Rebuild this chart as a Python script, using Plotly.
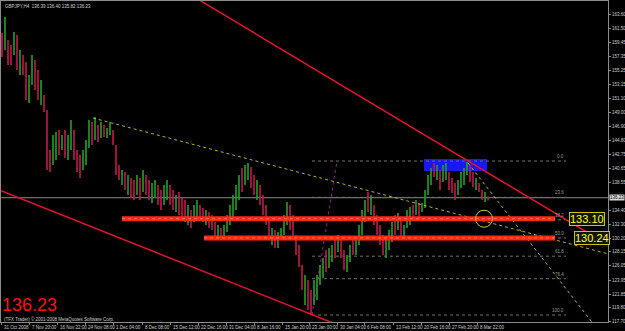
import plotly.graph_objects as go

# ---------------- data (GBPJPY H4) ----------------
bar_high = [
    160.81, 163.19, 159.76, 159.02, 160.96, 160.51, 158.27, 157.52, 156.48, 154.54,
    157.52, 156.78, 155.29, 153.80, 151.56, 149.32, 143.36, 145.59, 146.04, 146.34,
    145.59, 146.34, 145.59, 147.83, 146.34, 143.36, 142.60, 143.36, 144.85, 147.83,
    147.53, 148.27, 147.08, 147.53, 147.08, 146.63, 147.53, 146.34, 144.10, 141.11,
    140.37, 140.07, 139.62, 139.17, 138.88, 139.62, 139.17, 140.37, 139.62, 138.88,
    138.43, 138.88, 138.13, 137.39, 138.13, 138.88, 138.13, 137.39, 136.64, 137.09,
    136.19, 135.90, 135.14, 134.41, 135.14, 135.90, 135.14, 134.70, 134.41, 134.10,
    133.65, 132.61, 132.16, 131.71, 132.16, 133.65, 135.14, 136.64, 138.13, 139.62,
    140.66, 141.11, 141.41, 140.81, 139.62, 138.88, 138.13, 136.64, 135.14, 132.92,
    131.71, 131.42, 131.12, 131.71, 133.65, 135.59, 135.14, 133.65, 130.67, 129.18,
    126.19, 124.70, 123.97, 122.47, 123.97, 124.70, 126.19, 127.24, 128.43, 128.73,
    129.18, 129.93, 130.67, 129.93, 128.43, 127.68, 129.18, 129.93, 130.37, 132.16,
    134.41, 135.90, 137.09, 136.64, 135.14, 133.65, 132.16, 130.67, 129.93, 131.42,
    132.61, 133.65, 133.95, 132.92, 132.16, 134.41, 134.85, 135.14, 135.90, 135.44,
    135.44, 137.39, 139.62, 140.66, 141.41, 141.11, 140.37, 141.11, 141.41, 140.07,
    139.17, 138.43, 138.88, 140.07, 140.66, 141.56, 141.11, 140.07, 139.17, 138.43,
    137.39, 137.09, 136.40,
]
bar_low = [
    157.23, 158.27, 156.03, 156.03, 157.52, 155.29, 154.54, 154.54, 150.81, 150.36,
    153.05, 152.31, 150.81, 150.07, 149.02, 140.37, 140.07, 141.11, 141.86, 142.60,
    143.36, 142.16, 141.86, 143.36, 141.86, 140.07, 139.17, 140.37, 141.11, 143.65,
    144.10, 144.85, 144.54, 145.14, 145.29, 145.14, 145.59, 144.10, 139.62, 138.88,
    138.13, 137.39, 136.64, 136.19, 135.90, 136.64, 135.90, 137.09, 136.64, 135.90,
    135.44, 136.19, 135.14, 134.41, 135.14, 135.90, 135.14, 134.41, 134.10, 133.65,
    133.20, 132.61, 132.16, 131.71, 132.61, 133.20, 132.92, 132.61, 132.16, 131.71,
    131.42, 130.22, 129.93, 129.93, 130.22, 131.12, 132.16, 133.20, 134.41, 135.90,
    137.09, 138.13, 138.88, 137.68, 136.64, 135.90, 135.14, 133.65, 132.16, 129.93,
    129.18, 128.73, 128.73, 129.93, 130.67, 132.16, 131.42, 129.93, 127.68, 125.89,
    122.47, 120.23, 119.48, 118.73, 120.23, 120.97, 123.21, 124.26, 125.15, 125.74,
    126.64, 127.24, 128.13, 127.24, 125.45, 125.15, 126.64, 127.68, 127.68, 129.18,
    130.67, 132.61, 134.10, 133.65, 132.16, 130.67, 129.18, 127.68, 127.24, 128.43,
    129.63, 130.67, 131.42, 130.22, 129.93, 131.71, 132.16, 132.92, 133.65, 133.35,
    134.10, 134.70, 136.64, 138.13, 139.32, 138.88, 137.39, 138.58, 138.88, 137.39,
    136.93, 135.90, 136.64, 137.68, 138.13, 139.62, 138.58, 137.83, 137.39, 137.09,
    135.90, 135.59, 135.82,
]
bar_up = [
    0, 1, 0, 0, 1, 0, 1, 0, 0, 1,
    1, 0, 0, 1, 0, 0, 0, 1, 1, 0,
    1, 0, 1, 1, 0, 0, 0, 1, 1, 1,
    0, 1, 0, 1, 0, 1, 1, 0, 0, 0,
    1, 0, 1, 0, 0, 1, 0, 1, 0, 0,
    1, 1, 0, 0, 1, 1, 0, 0, 1, 0,
    0, 0, 1, 0, 1, 1, 0, 0, 1, 0,
    0, 0, 1, 0, 1, 1, 1, 1, 1, 1,
    0, 1, 1, 0, 0, 1, 0, 0, 0, 0,
    1, 0, 1, 1, 1, 1, 0, 0, 0, 0,
    0, 1, 0, 0, 1, 1, 1, 1, 0, 1,
    1, 0, 1, 0, 0, 1, 1, 0, 1, 1,
    1, 1, 0, 1, 0, 0, 0, 0, 1, 1,
    1, 0, 1, 0, 1, 1, 1, 0, 1, 0,
    1, 1, 1, 1, 0, 1, 0, 1, 1, 0,
    0, 0, 1, 1, 1, 1, 0, 0, 1, 0,
    0, 1, 0,
]
bar_step = 3  # each drawn bar stands for 3 H4 bars

x_tick_labels = ["31 Oct 2008", "7 Nov 20:00", "16 Nov 22:00", "24 Nov 08:00", "1 Dec 04:00",
                 "8 Dec 08:00", "15 Dec 12:00", "22 Dec 16:00", "31 Dec 04:00", "8 Jan 16:00",
                 "15 Jan 20:00", "23 Jan 00:00", "30 Jan 04:00", "6 Feb 08:00", "13 Feb 12:00",
                 "20 Feb 16:00", "27 Feb 20:00", "8 Mar 22:00"]
x_tick_pos = [-1, 27, 55, 83, 111, 140, 168, 196, 224, 252, 280, 307, 335, 362, 391, 419, 447, 475]

y_tick_labels = ["117.70", "119.80", "121.85", "123.95", "126.05", "128.15", "130.20", "132.30",
                 "134.40", "138.55", "140.65", "142.75", "144.80", "146.90", "149.00", "151.10",
                 "153.15", "155.25", "157.35", "159.45", "161.50", "163.60"]

symbol_title = "GBPJPY,H4  136.39 136.40 135.82 136.23"
copyright_text = "(TFX Trader) © 2001-2008 MetaQuotes Software Corp."
bid_price = 136.23
levels_hline = [133.10, 130.24]          # red support lines
levels_hline_start = [120, 202]          # bar position where each line starts
levels_hline_end = 553

fib_high, fib_low = 141.71, 118.73
fib_ratios = [0.0, 23.6, 38.2, 50.0, 61.8, 76.4, 100.0]
fib_x = [310, 335, 564]                  # low anchor, high anchor, right end

# trendline anchors: (x0, p0, x1, p1)
red_upper = (431, 144.85, 568, 132.61)
red_lower = (198, 125.45, 311, 118.73)
olive_a = (91, 148.12, 398, 136.04)
olive_b = (466, 141.41, 540, 127.24)

box_zone = (422, 485, 140.22, 142.01)    # blue rectangle
circle_mark = (482, 133.10)

X_RANGE = [-1, 606]
Y_RANGE = [117.69, 165.58]

SMALL = dict(size=4.5, color="#d0d0d0", family="Liberation Sans")

# ---------------- figure ----------------
fig = go.Figure()


def bar_segments(flag):
    xs, ys = [], []
    for k, (h, l, u) in enumerate(zip(bar_high, bar_low, bar_up)):
        if u == flag:
            xs += [k * bar_step, k * bar_step, None]
            ys += [l, h, None]
    return xs, ys


def extended(line, x_from, x_to):
    x0, p0, x1, p1 = line
    s = (p1 - p0) / (x1 - x0)
    return [x_from, x_to], [p0 + s * (x_from - x0), p0 + s * (x_to - x0)]


# bid line (gray, full width)
fig.add_trace(go.Scatter(x=X_RANGE, y=[bid_price, bid_price], mode="lines",
                         line=dict(color="#8a8a8a", width=1), hoverinfo="skip"))

# fibonacci levels
for r in fib_ratios:
    lv = fib_high - (fib_high - fib_low) * r / 100
    fig.add_trace(go.Scatter(x=[fib_x[0], fib_x[2]], y=[lv, lv], mode="lines",
                             line=dict(color="#6e6e6e", width=1, dash="dot"), hoverinfo="skip"))
    fig.add_annotation(x=fib_x[2], y=lv, xref="x", yref="y", text=f"{r:.1f}", showarrow=False,
                       xanchor="right", yanchor="bottom",
                       font=dict(size=4.5, color="#9a9a9a", family="Liberation Sans"))
fig.add_trace(go.Scatter(x=[fib_x[0], fib_x[1]], y=[fib_low, fib_high], mode="lines",
                         line=dict(color="#9a1aa0", width=1, dash="dot"), hoverinfo="skip"))

# bars
for flag, col in [(1, "#22a322"), (0, "#c4184c")]:
    xs, ys = bar_segments(flag)
    fig.add_trace(go.Scatter(x=xs, y=ys, mode="lines", line=dict(color=col, width=1.6),
                             hoverinfo="skip"))

# olive dotted trendlines
xa, ya = extended(olive_a, olive_a[0], X_RANGE[1])
fig.add_trace(go.Scatter(x=xa, y=ya, mode="lines", line=dict(color="#b4b428", width=1, dash="dot"),
                         hoverinfo="skip"))
xb, yb = extended(olive_b, olive_b[0], X_RANGE[1])
fig.add_trace(go.Scatter(x=xb, y=yb, mode="lines", line=dict(color="#b4b428", width=1, dash="dot"),
                         hoverinfo="skip"))

# red channel lines
xu, yu = extended(red_upper, 0, X_RANGE[1])
fig.add_trace(go.Scatter(x=xu, y=yu, mode="lines", line=dict(color="#e8102a", width=1.5),
                         hoverinfo="skip"))
xl, yl = extended(red_lower, X_RANGE[0], 400)
fig.add_trace(go.Scatter(x=xl, y=yl, mode="lines", line=dict(color="#e8102a", width=1.5),
                         hoverinfo="skip"))

# thick red horizontal levels
for lv, x0 in zip(levels_hline, levels_hline_start):
    fig.add_trace(go.Scatter(x=[x0, levels_hline_end], y=[lv, lv], mode="lines",
                             line=dict(color="#ff2a10", width=5), hoverinfo="skip"))
    fig.add_trace(go.Scatter(x=[x0, levels_hline_end], y=[lv, lv], mode="lines",
                             line=dict(color="#ff7a60", width=1, dash="dot"), hoverinfo="skip"))

# price tags for the levels
for lv, xpos in zip(levels_hline, [585, 590]):
    fig.add_annotation(x=xpos, y=lv, xref="x", yref="y", text=f"{lv:.2f}", showarrow=False,
                       font=dict(size=11, color="#ffff30", family="Liberation Sans"),
                       bgcolor="#141400", bordercolor="#c8c800", borderwidth=1, borderpad=0)

# blue rectangle (behind bars)
fig.add_shape(type="rect", xref="x", yref="y", x0=box_zone[0], x1=box_zone[1],
              y0=box_zone[2], y1=box_zone[3], fillcolor="#1818f0", line=dict(width=0),
              layer="below")

# circle
cx, cy = circle_mark
fig.add_shape(type="circle", xref="x", yref="y", x0=cx - 8.5, x1=cx + 8.5,
              y0=cy - 1.27, y1=cy + 1.27, line=dict(color="#c8c832", width=1))

# axis labels as positioned texts
for pos, lab in zip(x_tick_pos, x_tick_labels):
    fig.add_annotation(x=pos, y=0, xref="x", yref="paper", text=lab, showarrow=False,
                       xanchor="left", yanchor="top", xshift=1, yshift=-1, font=SMALL)
for lab in y_tick_labels:
    fig.add_annotation(x=1, y=float(lab), xref="paper", yref="y", text=lab, showarrow=False,
                       xanchor="left", yanchor="middle", xshift=2, font=SMALL)

# texts
fig.add_annotation(xref="paper", yref="paper", x=0, y=1, xanchor="left", yanchor="top",
                   xshift=2, yshift=-1, text=symbol_title, showarrow=False, font=SMALL)
fig.add_annotation(xref="paper", yref="paper", x=0, y=0, xanchor="left", yanchor="middle",
                   xshift=0, yshift=17, text=f"{bid_price:.2f}", showarrow=False, borderpad=0,
                   font=dict(size=18, color="#ff1010", family="Liberation Sans"))
fig.add_annotation(xref="paper", yref="paper", x=0, y=0, xanchor="left", yanchor="bottom",
                   xshift=2, yshift=-1, text=copyright_text, showarrow=False, borderpad=0,
                   font=SMALL)
fig.add_annotation(xref="paper", yref="y", x=1, y=bid_price, xanchor="left", yanchor="middle",
                   xshift=1, text=f"{bid_price:.2f}", showarrow=False, bgcolor="#d8d8d8",
                   borderpad=0, font=dict(size=4.5, color="#000000", family="Liberation Sans"))

fig.update_layout(
    width=625, height=331,
    margin=dict(l=1, r=17, t=1, b=9),
    paper_bgcolor="#000000", plot_bgcolor="#000000",
    showlegend=False,
    xaxis=dict(range=X_RANGE, showgrid=False, zeroline=False, showline=True, linecolor="#8c8c8c",
               linewidth=1, mirror=True, tickmode="array", tickvals=x_tick_pos,
               showticklabels=False, ticks="outside", ticklen=2, tickcolor="#8c8c8c",
               automargin=False),
    yaxis=dict(range=Y_RANGE, side="right", showgrid=False, zeroline=False, showline=True,
               linecolor="#8c8c8c", linewidth=1, mirror=True, tickmode="array",
               tickvals=[float(v) for v in y_tick_labels], showticklabels=False,
               ticks="outside", ticklen=2, tickcolor="#8c8c8c", automargin=False),
)

fig.write_html("out.html")
